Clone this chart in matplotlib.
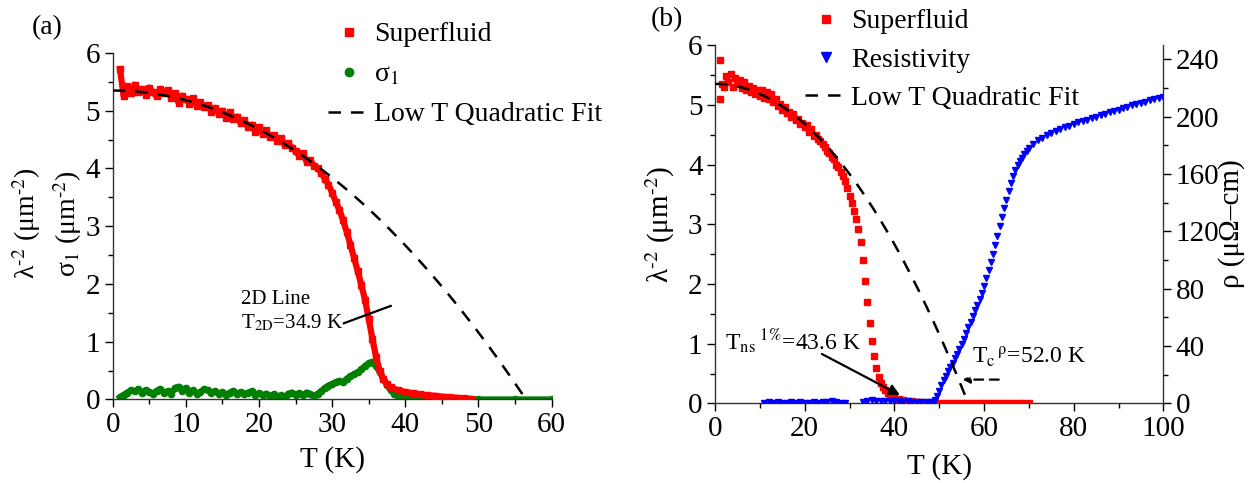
import matplotlib
matplotlib.use("Agg")
import matplotlib.pyplot as plt
from matplotlib.lines import Line2D
from matplotlib.ticker import MultipleLocator
import numpy as np

plt.rcParams['font.family'] = ['Liberation Serif', 'DejaVu Serif']
plt.rcParams['mathtext.fontset'] = 'stix'

# ---------------- panel (a): superfluid density and sigma_1 ----------------
T_sf_a = [1.0, 1.5, 2.0, 2.5, 3.0, 3.5, 4.0, 4.5, 5.0, 5.5, 6.0, 6.5, 7.0, 7.5, 8.0, 8.5,
          9.0, 9.5, 10.0, 10.5, 11.0, 11.5, 12.0, 12.5, 13.0, 13.5, 14.0, 14.5, 15.0, 15.5,
          16.0, 16.5, 17.0, 17.5, 18.0, 18.5, 19.0, 19.5, 20.0, 20.5, 21.0, 21.5, 22.0, 22.5,
          23.0, 23.5, 24.0, 24.5, 25.0, 25.5, 26.0, 26.5, 27.0, 27.5, 28.0, 28.5, 29.0, 29.5,
          30.0, 30.5, 31.0, 31.5, 32.0, 32.5, 33.0, 33.5, 34.0, 34.5, 35.0, 35.5, 36.0, 36.5,
          37.0, 37.5, 38.0, 39.0, 40.0, 41.0, 42.0, 43.0, 44.0, 45.0, 46.0, 47.0, 48.0, 49.0]
sf_a = [5.72, 5.25, 5.42, 5.30, 5.45, 5.33, 5.38, 5.28, 5.40, 5.32, 5.25, 5.38, 5.30, 5.36,
        5.22, 5.30, 5.14, 5.26, 5.20, 5.12, 5.22, 5.08, 5.15, 5.06, 5.10, 4.98, 5.05, 4.95,
        5.00, 4.88, 4.98, 4.85, 4.90, 4.78, 4.84, 4.72, 4.76, 4.64, 4.72, 4.60, 4.66, 4.54,
        4.58, 4.48, 4.52, 4.40, 4.44, 4.36, 4.30, 4.22, 4.26, 4.12, 4.15, 4.05, 4.00, 3.93,
        3.82, 3.72, 3.58, 3.42, 3.28, 3.10, 2.90, 2.68, 2.45, 2.22, 1.98, 1.72, 1.40, 1.05,
        0.74, 0.50, 0.35, 0.27, 0.21, 0.16, 0.13, 0.11, 0.09, 0.075, 0.065, 0.05, 0.04, 0.03,
        0.02, 0.01]

T_sig = [1.0, 1.5, 2.0, 2.5, 3.0, 3.5, 4.0, 4.5, 5.0, 5.5, 6.0, 6.5, 7.0, 7.5, 8.0, 8.5,
         9.0, 9.5, 10.0, 10.5, 11.0, 11.5, 12.0, 12.5, 13.0, 13.5, 14.0, 14.5, 15.0, 15.5,
         16.0, 16.5, 17.0, 17.5, 18.0, 18.5, 19.0, 19.5, 20.0, 20.5, 21.0, 21.5, 22.0, 22.5,
         23.0, 23.5, 24.0, 24.5, 25.0, 25.5, 26.0, 26.5, 27.0, 27.5, 28.0, 28.5, 29.0, 29.5,
         30.0, 30.5, 31.0, 31.5, 32.0, 32.5, 33.0, 33.5, 34.0, 34.5, 35.0, 35.5, 36.0, 36.5,
         37.0, 37.5, 38.0, 38.5, 39.0, 39.5, 40.0, 41.0, 42.0, 45.0, 50.0, 55.0, 60.0]
sigma1 = [0.04, 0.08, 0.12, 0.16, 0.14, 0.18, 0.12, 0.16, 0.13, 0.10, 0.15, 0.18, 0.12, 0.14,
          0.10, 0.20, 0.22, 0.15, 0.20, 0.12, 0.16, 0.10, 0.13, 0.18, 0.16, 0.11, 0.14, 0.10,
          0.13, 0.08, 0.12, 0.15, 0.10, 0.13, 0.09, 0.12, 0.14, 0.08, 0.11, 0.07, 0.10, 0.06,
          0.09, 0.04, 0.07, 0.03, 0.10, 0.12, 0.08, 0.11, 0.07, 0.12, 0.09, 0.06, 0.10, 0.14,
          0.20, 0.24, 0.27, 0.30, 0.32, 0.30, 0.36, 0.40, 0.44, 0.47, 0.52, 0.58, 0.63, 0.65,
          0.58, 0.48, 0.36, 0.25, 0.16, 0.10, 0.06, 0.035, 0.02, 0.01, 0.0, 0.0, 0.0, 0.0, 0.0]

# low-temperature quadratic fit: lambda^-2(T) = L0 * (1 - (T/Tfit)^2)
fit_L0 = 5.35
fit_T0 = 56.5

# ---------------- panel (b): superfluid density and resistivity ----------------
T_sf_b = [1.0, 1.2, 1.5, 2.0, 2.5, 3.0, 3.5, 4.0, 4.5, 5.0, 5.5, 6.0, 6.5, 7.0, 7.5, 8.0,
          8.5, 9.0, 9.5, 10.0, 10.5, 11.0, 11.5, 12.0, 12.5, 13.0, 13.5, 14.0, 14.5, 15.0,
          15.5, 16.0, 16.5, 17.0, 17.5, 18.0, 18.5, 19.0, 19.5, 20.0, 20.5, 21.0, 21.5, 22.0,
          22.5, 23.0, 23.5, 24.0, 24.5, 25.0, 25.5, 26.0, 26.5, 27.0, 27.5, 28.0, 28.5, 29.0,
          29.5, 30.0, 30.5, 31.0, 31.5, 32.0, 32.5, 33.0, 33.5, 34.0, 34.5, 35.0, 35.5, 36.0,
          36.5, 37.0, 37.5, 38.0, 38.5, 39.0, 40.0, 41.0, 42.0, 43.0, 44.0, 45.0, 46.0, 47.0,
          48.0, 49.0, 50.0, 51.0, 52.0, 53.0, 54.0, 55.0, 56.0, 57.0, 58.0, 59.0, 60.0, 61.0,
          62.0, 63.0, 64.0, 65.0, 66.0, 67.0, 68.0, 69.0, 70.0]
sf_b = [5.75, 5.10, 5.35, 5.30, 5.48, 5.38, 5.52, 5.30, 5.45, 5.35, 5.42, 5.28, 5.38, 5.25,
        5.32, 5.22, 5.28, 5.18, 5.24, 5.15, 5.25, 5.12, 5.22, 5.10, 5.18, 5.05, 5.10, 4.98,
        5.02, 4.92, 4.96, 4.86, 4.88, 4.80, 4.84, 4.74, 4.76, 4.68, 4.70, 4.62, 4.66, 4.55,
        4.60, 4.48, 4.50, 4.42, 4.40, 4.34, 4.30, 4.22, 4.20, 4.12, 4.10, 4.00, 3.96, 3.88,
        3.80, 3.72, 3.60, 3.48, 3.35, 3.22, 3.08, 2.92, 2.70, 2.40, 2.05, 1.70, 1.35, 1.05,
        0.80, 0.60, 0.44, 0.34, 0.27, 0.22, 0.18, 0.15, 0.11, 0.08, 0.06, 0.045, 0.035, 0.025,
        0.02, 0.015, 0.01, 0.005, 0.0, 0.0, 0.0, 0.0, 0.0, 0.0, 0.0, 0.0, 0.0, 0.0, 0.0, 0.0,
        0.0, 0.0, 0.0, 0.0, 0.0, 0.0, 0.0, 0.0, 0.0]

T_rho = [11, 12, 13, 14, 15, 16, 17, 18, 19, 20, 21, 22, 23, 24, 25, 26, 27, 28, 29,
         33, 34, 35, 36, 37, 38, 39, 40, 41, 42, 43, 44, 45, 46, 47, 48,
         48.5, 49.0, 49.5, 50.0, 50.5, 51.0, 51.5, 52.0, 52.5, 53.0, 53.5, 54.0, 54.5, 55.0,
         55.5, 56.0, 56.5, 57.0, 57.5, 58.0, 58.5, 59.0, 59.5, 60.0, 60.5, 61.0, 61.5, 62.0,
         62.5, 63.0, 63.5, 64.0, 64.5, 65.0, 65.5, 66.0, 66.5, 67.0, 67.5, 68.0, 68.5, 69.0,
         69.5, 70, 71, 72, 73, 74, 75, 76, 77, 78, 79, 80, 81, 82, 83, 84, 85, 86, 87, 88,
         89, 90, 91, 92, 93, 94, 95, 96, 97, 98, 99, 100]
rho = [0.5, 0.8, 0.6, 0.7, 0.5, 0.6, 0.8, 0.5, 0.7, 0.6, 0.5, 0.8, 0.6, 0.9, 1.2, 2.0, 1.0,
       0.5, 0.6,
       1.2, 1.8, 2.2, 1.6, 2.0, 1.5, 1.8, 1.4, 1.6, 1.2, 1.5, 1.1, 1.3, 1.0, 1.2, 1.0,
       1.0, 2.5, 5.5, 9.0, 13.0, 16.5, 19.5, 22.5, 25.5, 28.5, 31.5, 34.5, 38.0, 41.5,
       45.0, 49.0, 53.0, 57.0, 61.0, 65.0, 69.0, 73.0, 77.0, 82.0, 87.5, 93.0, 98.5, 104.5,
       110.5, 117.0, 123.5, 130.0, 136.0, 142.0, 148.0, 153.5, 158.5, 163.0, 166.5, 169.0,
       171.5, 174.0, 176.0, 178.0, 181.0, 183.5, 185.5, 187.0, 188.5, 190.0, 191.2, 192.5,
       193.8, 195.0, 196.0, 197.0, 198.0, 199.0, 200.0, 201.0, 202.0, 203.0, 204.0, 205.0,
       206.0, 207.0, 208.0, 209.0, 209.8, 210.6, 211.4, 212.2, 213.0, 214.0]

RED = '#ff0000'
GREEN = '#008000'
BLUE = '#0000ff'
FS = 20
TFS = 21

fig = plt.figure(figsize=(12.52, 4.83), dpi=100)


def style_axis(ax):
    ax.tick_params(which='major', direction='out', length=6, width=1.0, labelsize=TFS, pad=3)
    ax.tick_params(which='minor', direction='out', length=3.5, width=1.0)
    for s in ax.spines.values():
        s.set_color('#333333')
        s.set_linewidth(1.0)


# ---------- (a) ----------
ax1 = fig.add_axes([0.0900, 0.1729, 0.3506, 0.7174])
Tf = np.linspace(0, fit_T0, 200)
ax1.plot(T_sig, sigma1, color=GREEN, lw=4.5, zorder=2)
ax1.plot(T_sig, sigma1, ls='none', marker='o', ms=4.5, color=GREEN, zorder=2)
ax1.plot(T_sf_a, sf_a, color=RED, lw=4.5, zorder=3)
ax1.plot(T_sf_a, sf_a, ls='none', marker='s', ms=4.5, color=RED, zorder=3)
ax1.plot(Tf, fit_L0 * (1 - (Tf / fit_T0) ** 2), color='black', ls=(0, (5, 4)), lw=1.8, zorder=4)
ax1.plot([31.6, 38.0], [1.32, 1.62], color='black', lw=1.6, zorder=5)
ax1.text(17.5, 1.73, '2D Line', fontsize=15, va='center', ha='left')
ax1.text(17.5, 1.33, r'T$_{\mathrm{2D}}$=34.9 K', fontsize=15, va='center', ha='left')

ax1.set_xlim(0, 60)
ax1.set_ylim(0, 6)
ax1.xaxis.set_major_locator(MultipleLocator(10))
ax1.xaxis.set_minor_locator(MultipleLocator(5))
ax1.yaxis.set_major_locator(MultipleLocator(1))
ax1.yaxis.set_minor_locator(MultipleLocator(0.5))
ax1.spines['top'].set_visible(False)
ax1.spines['right'].set_visible(False)
style_axis(ax1)
ax1.set_xlabel('T (K)', fontsize=TFS, labelpad=6)
fig.text(0.021, 0.538, r'λ$^{\mathrm{‐2}}$ (μm$^{\mathrm{‐2}}$)', rotation=90, fontsize=FS,
         ha='center', va='center')
fig.text(0.054, 0.538, r'σ$_1$ (μm$^{\mathrm{‐2}}$)', rotation=90, fontsize=FS,
         ha='center', va='center')
fig.text(47 / 1252, 1 - 28 / 483, '(a)', fontsize=FS, ha='center', va='center')

leg_a = [Line2D([], [], ls='none', marker='s', ms=6, color=RED),
         Line2D([], [], ls='none', marker='o', ms=6, color=GREEN),
         Line2D([], [], color='black', ls=(0, (5, 4)), lw=1.8)]
fig.legend(leg_a, ['Superfluid', r'σ$_1$', 'Low T Quadratic Fit'], loc='upper left',
           bbox_to_anchor=(328 / 1252, 1 - 22 / 483), frameon=False, fontsize=FS,
           handlelength=1.5, handletextpad=0.15, labelspacing=0.52, borderpad=0,
           borderaxespad=0)

# ---------- (b) ----------
ax2 = fig.add_axes([0.5711, 0.1646, 0.3581, 0.7422])
ax3 = ax2.twinx()
ax2.plot(T_sf_b, sf_b, ls='none', marker='s', ms=4.5, color=RED, zorder=3)
ax3.plot(T_rho, rho, ls='none', marker='v', ms=4.5, color=BLUE, zorder=2)
ax3.plot(Tf, fit_L0 * (1 - (Tf / fit_T0) ** 2), color='black', ls=(0, (5, 4)), lw=1.8,
         zorder=4, transform=ax2.transData)
ax3.annotate('', xy=(41.8, 0.12), xytext=(23.3, 0.85), xycoords=ax2.transData,
             textcoords=ax2.transData,
             arrowprops=dict(arrowstyle='-|>', color='black', lw=1.6, mutation_scale=16))
ax3.annotate('', xy=(54.6, 0.40), xytext=(63.9, 0.40), xycoords=ax2.transData,
             textcoords=ax2.transData,
             arrowprops=dict(arrowstyle='-|>', color='black', lw=1.6, ls=(0, (4, 3)),
                             mutation_scale=10))
ax3.text(2.3, 1.05, r'T$_{\mathrm{ns}}$$^{\ 1\%}$=43.6 K', fontsize=17, va='center', ha='left',
         transform=ax2.transData)
ax3.text(57.4, 0.78, r'T$_{\mathrm{c}}$$^{\,\mathrm{ρ}}$=52.0 K', fontsize=17, va='center',
         ha='left', transform=ax2.transData)

ax2.set_xlim(0, 100)
ax2.set_ylim(0, 6)
ax3.set_ylim(0, 250)
ax2.xaxis.set_major_locator(MultipleLocator(20))
ax2.xaxis.set_minor_locator(MultipleLocator(10))
ax2.yaxis.set_major_locator(MultipleLocator(1))
ax2.yaxis.set_minor_locator(MultipleLocator(0.5))
ax3.yaxis.set_major_locator(MultipleLocator(40))
ax3.yaxis.set_minor_locator(MultipleLocator(20))
ax2.spines['top'].set_visible(False)
ax2.spines['right'].set_visible(False)
ax3.spines['top'].set_visible(False)
ax3.spines['left'].set_visible(False)
ax3.spines['bottom'].set_visible(False)
style_axis(ax2)
style_axis(ax3)
ax2.set_xlabel('T (K)', fontsize=TFS, labelpad=8)
fig.text(660 / 1252, 0.536, r'λ$^{\mathrm{‐2}}$ (μm$^{\mathrm{‐2}}$)', rotation=90, fontsize=TFS,
         ha='center', va='center')
fig.text(1232 / 1252, 0.536, 'ρ (μΩ–cm)', rotation=90, fontsize=TFS, ha='center', va='center')
fig.text(667 / 1252, 1 - 20 / 483, '(b)', fontsize=FS, ha='center', va='center')

leg_b = [Line2D([], [], ls='none', marker='s', ms=6, color=RED),
         Line2D([], [], ls='none', marker='v', ms=7, color=BLUE),
         Line2D([], [], color='black', ls=(0, (5, 4)), lw=1.8)]
fig.legend(leg_b, ['Superfluid', 'Resistivity', 'Low T Quadratic Fit'], loc='upper left',
           bbox_to_anchor=(805 / 1252, 1 - 9 / 483), frameon=False, fontsize=FS,
           handlelength=1.5, handletextpad=0.15, labelspacing=0.46, borderpad=0,
           borderaxespad=0)

fig.savefig('out.png', dpi=100)
